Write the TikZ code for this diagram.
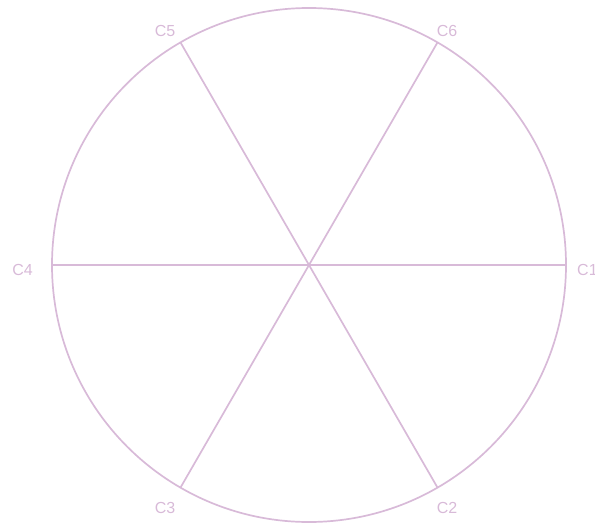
\documentclass[tikz,border=0pt]{standalone}
\usepackage{fontspec}
\setmainfont{Liberation Sans}
\definecolor{lilac}{RGB}{216,186,216}
\begin{document}
\begin{tikzpicture}[
  x=1pt,y=-1pt,
  rim/.style={draw=lilac,line width=1.7pt},
  spoke/.style={lilac,line width=1.7pt},
  lbl/.style={text=lilac,font=\fontsize{16}{18}\selectfont,inner sep=0pt}
]
  \useasboundingbox (0,0) rectangle (595,523);
  \coordinate (O) at (309,265);
  \draw[rim] (O) circle[radius=257];

  \foreach \i in {1,...,6}
    \coordinate (p\i) at ([shift={({(\i-1)*60}:257)}]O);
  \foreach \i in {1,...,6} \draw[spoke] (O) -- (p\i);

  \node[lbl,anchor=west] (c1) at (577,270) {C1};
  \node[lbl] (c2) at (447,507.5) {C2};
  \node[lbl] (c3) at (165,507.5) {C3};
  \node[lbl,anchor=east] (c4) at (33,270) {C4};
  \node[lbl] (c5) at (165,30.5) {C5};
  \node[lbl] (c6) at (447,30.5) {C6};
\end{tikzpicture}
\end{document}
